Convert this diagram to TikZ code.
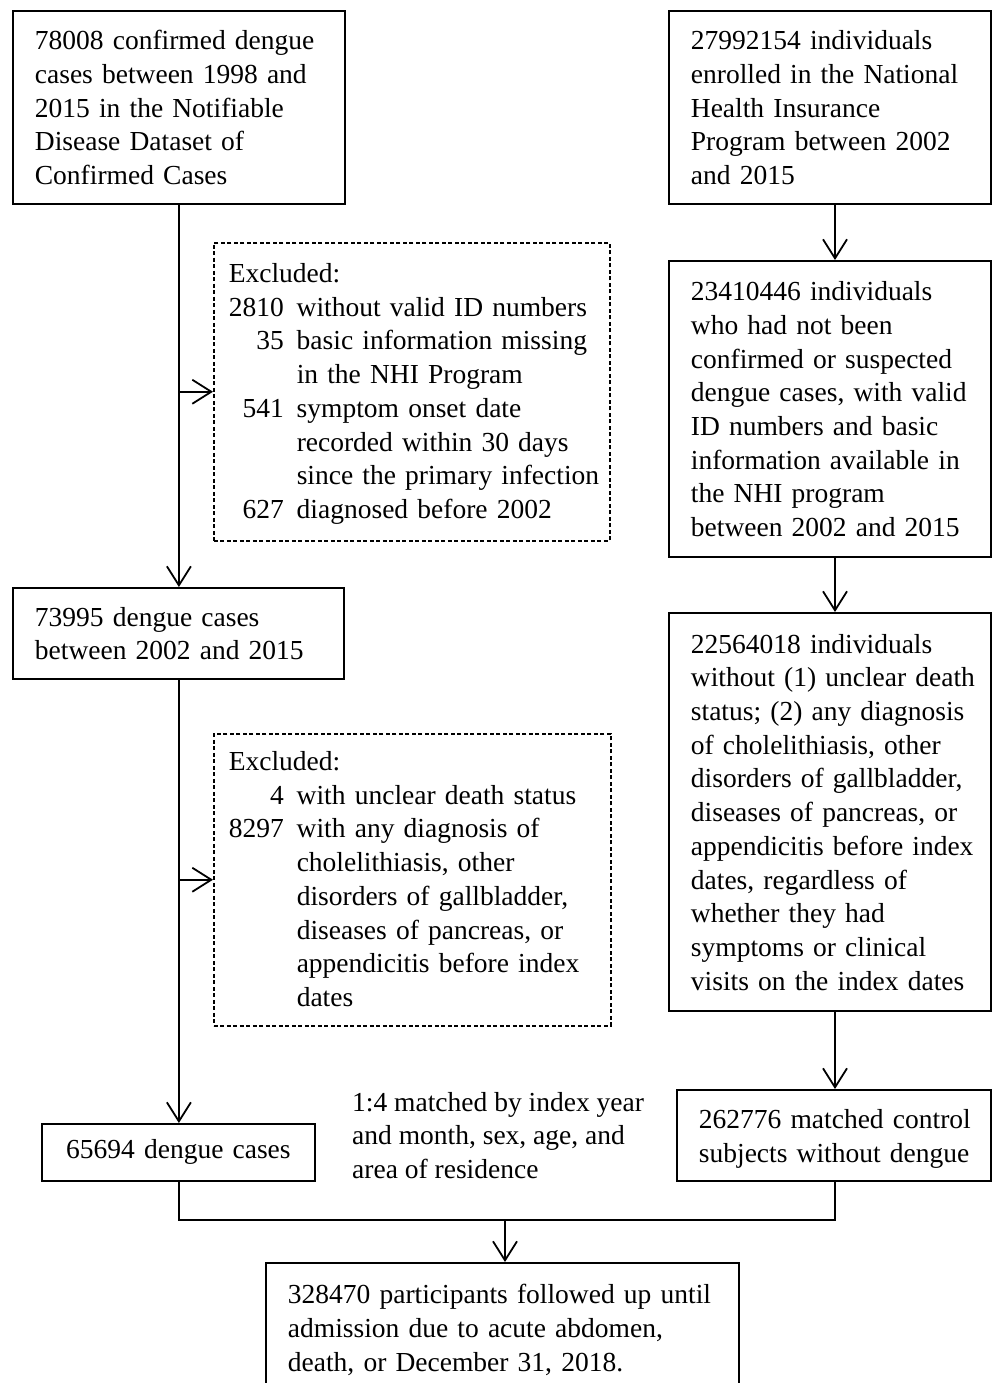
\documentclass[tikz,border=0pt]{standalone}
\usepackage{fontspec}
\setmainfont{Liberation Serif}
\usetikzlibrary{arrows.meta,positioning}

\newcommand{\boxlines}[1]{\raisebox{-3pt}[\height][\depth]{\begin{tabular}{@{}l@{}}#1\end{tabular}}}
\newcommand{\exclines}[1]{\raisebox{-2pt}[\height][\depth]{\begin{tabular}{@{}r@{\hspace{13pt}}l@{}}#1\end{tabular}}}

\tikzstyle{stage} = [draw, line width=1.8pt, anchor=north west, inner xsep=22pt, inner ysep=0pt, align=left, font=\fontsize{27.5}{33.7}\selectfont]
\tikzstyle{excl} = [stage, dash pattern=on 4pt off 2.5pt, line width=1.5pt, inner xsep=15pt]
\tikzstyle{flow} = [line width=1.8pt, -{Straight Barb[length=19pt,width=24pt]}]
\tikzstyle{plainline} = [line width=1.8pt]

\begin{document}
\begin{tikzpicture}[x=1pt,y=-1pt]
\useasboundingbox (0,0) rectangle (992,1383);

% left column: dengue cases
\node[stage, text width=288pt, minimum height=193pt] (dss) at (12,10)
    {\boxlines{78008 confirmed dengue\\ cases between 1998 and\\ 2015 in the Notifiable\\ Disease Dataset of\\ Confirmed Cases}};
\node[excl, text width=366pt, minimum height=298pt] (excl1) at (213,242)
    {\exclines{\multicolumn{2}{@{}l@{}}{Excluded:}\\
        2810 & without valid ID numbers\\
        35 & basic information missing\\
           & in the NHI Program\\
        541 & symptom onset date\\
            & recorded within 30 days\\
            & since the primary infection\\
        627 & diagnosed before 2002}};
\node[stage, text width=287pt, minimum height=91pt] (cases0215) at (12,587)
    {\boxlines{73995 dengue cases\\ between 2002 and 2015}};
\node[excl, text width=367pt, minimum height=292pt] (excl2) at (213,733)
    {\exclines{\multicolumn{2}{@{}l@{}}{Excluded:}\\
        4 & with unclear death status\\
        8297 & with any diagnosis of\\
             & cholelithiasis, other\\
             & disorders of gallbladder,\\
             & diseases of pancreas, or\\
             & appendicitis before index\\
             & dates}};
\node[stage, text width=229pt, minimum height=57pt, align=center] (cases) at (41,1123)
    {\raisebox{-2pt}{65694 dengue cases}};

% right column: comparison cohort
\node[stage, text width=278pt, minimum height=193pt] (nhi) at (668,10)
    {\boxlines{27992154 individuals\\ enrolled in the National\\ Health Insurance\\ Program between 2002\\ and 2015}};
\node[stage, text width=278pt, minimum height=296pt] (eligible) at (668,260)
    {\boxlines{23410446 individuals\\ who had not been\\ confirmed or suspected\\ dengue cases, with valid\\ ID numbers and basic\\ information available in\\ the NHI program\\ between 2002 and 2015}};
\node[stage, text width=278pt, minimum height=398pt] (controlpool) at (668,612)
    {\boxlines{22564018 individuals\\ without (1) unclear death\\ status; (2) any diagnosis\\ of cholelithiasis, other\\ disorders of gallbladder,\\ diseases of pancreas, or\\ appendicitis before index\\ dates, regardless of\\ whether they had\\ symptoms or clinical\\ visits on the index dates}};
\node[stage, text width=270pt, minimum height=91pt] (controls) at (676,1089)
    {\boxlines{262776 matched control\\ subjects without dengue}};

\node[anchor=west, inner sep=0pt, font=\fontsize{27.5}{33.7}\selectfont] (matchnote) at (352,1135)
    {\boxlines{1:4 matched by index year\\ and month, sex, age, and\\ area of residence}};

% merged cohort
\node[stage, text width=429pt, minimum height=130pt] (cohort) at (265,1262)
    {\boxlines{328470 participants followed up until\\ admission due to acute abdomen,\\ death, or December 31, 2018.}};

\coordinate (rx) at (835,0);
\coordinate (mid) at (505,0);
\coordinate (bend) at (0,1220);

\draw[flow] (dss.south) -- (dss.south |- cases0215.north);
\draw[flow] (dss.south |- excl1.west) -- (excl1.west);
\draw[flow] (dss.south |- cases0215.south) -- (dss.south |- cases.north);
\draw[flow] (dss.south |- excl2.west) -- (excl2.west);
\draw[flow] (nhi.south -| rx) -- (eligible.north -| rx);
\draw[flow] (eligible.south -| rx) -- (controlpool.north -| rx);
\draw[flow] (controlpool.south -| rx) -- (controls.north -| rx);
\draw[plainline] (dss.south |- cases.south) |- (rx |- bend) -- (controls.south -| rx);
\draw[flow] (mid |- bend) -- (cohort.north -| mid);
\end{tikzpicture}
\end{document}
